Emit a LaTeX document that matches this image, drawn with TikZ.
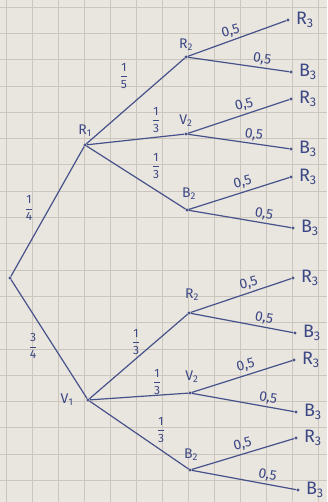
\documentclass[tikz,border=0pt]{standalone}
\usepackage{fontspec}
\usepackage{amsmath}
\setmainfont{Fira Sans}
\definecolor{paper}{HTML}{E9E5DF}
\definecolor{gridc}{HTML}{CBC5BE}
\definecolor{ink}{HTML}{46528A}
\definecolor{inkt}{HTML}{3C4884}
\newcommand\lb[2]{#1\textsubscript{#2}}
\newcommand\fr[2]{$\genfrac{}{}{0.8pt}{0}{\text{#1}}{\text{#2}}$}
\newcommand\half{0,5}
\begin{document}
\begin{tikzpicture}[x=1pt,y=-1pt,
  dot/.style={circle,fill=ink,inner sep=0pt,minimum size=3.2pt},
  branch/.style={draw=ink,line width=1.2pt},
  ntxt/.style={text=inkt,font=\fontsize{14}{15}\selectfont,inner sep=1pt},
  leaftxt/.style={text=inkt,font=\fontsize{18}{19}\selectfont,inner sep=1pt,anchor=west},
  frtxt/.style={text=inkt,font=\fontsize{12}{13}\selectfont,inner sep=1pt},
  ptxt/.style={text=inkt,font=\fontsize{14}{15}\selectfont,inner sep=2pt,above,sloped},
  ptxtr/.style={text=inkt,font=\fontsize{14}{15}\selectfont,inner sep=2.5pt,above,rotate=15}]
\useasboundingbox (0,0) rectangle (327,502);
\fill[paper] (0,0) rectangle (327,502);
\foreach \i in {0,...,12} {\draw[gridc,line width=0.7pt] (6+26*\i,0) -- (6+26*\i,502);}
\foreach \j in {0,...,19} {\draw[gridc,line width=0.7pt] (0,7+26.3*\j) -- (327,7+26.3*\j);}
% nodes
\node[dot] (root) at (10,278) {};
\node[dot] (r1) at (85,145) {};
\node[dot] (v1) at (88,400) {};
\node[dot] (r2a) at (186,57) {};
\node[dot] (v2a) at (186,134) {};
\node[dot] (b2a) at (187,210) {};
\node[dot] (r2b) at (189,313) {};
\node[dot] (v2b) at (190,393) {};
\node[dot] (b2b) at (190,470) {};
% leaves
\node[dot] (l1) at (288,20) {};
\node[dot] (l2) at (291,72) {};
\node[dot] (l3) at (291,99) {};
\node[dot] (l4) at (291,149) {};
\node[dot] (l5) at (291,177) {};
\node[dot] (l6) at (293,228) {};
\node[dot] (l7) at (293,278) {};
\node[dot] (l8) at (295,333) {};
\node[dot] (l9) at (294,360) {};
\node[dot] (l10) at (296,412) {};
\node[dot] (l11) at (296,438) {};
\node[dot] (l12) at (298,490) {};
% first level
\draw[branch] (root) -- (r1);
\draw[branch] (root) -- (v1);
% second level
\draw[branch] (r1) -- (r2a);
\draw[branch] (r1) -- (v2a);
\draw[branch] (r1) -- (b2a);
\draw[branch] (v1) -- (r2b);
\draw[branch] (v1) -- (v2b);
\draw[branch] (v1) -- (b2b);
% third level
\draw[branch] (r2a) -- node[ptxtr,pos=0.46] (p1) {\half} (l1);
\draw[branch] (r2a) -- node[ptxt,pos=0.72] (p2) {\half} (l2);
\draw[branch] (v2a) -- node[ptxtr,pos=0.58] (p3) {\half} (l3);
\draw[branch] (v2a) -- node[ptxt,pos=0.64] (p4) {\half} (l4);
\draw[branch] (b2a) -- node[ptxtr,pos=0.56] (p5) {\half} (l5);
\draw[branch] (b2a) -- node[ptxt,pos=0.72] (p6) {\half} (l6);
\draw[branch] (r2b) -- node[ptxtr,pos=0.6] (p7) {\half} (l7);
\draw[branch] (r2b) -- node[ptxt,pos=0.7] (p8) {\half} (l8);
\draw[branch] (v2b) -- node[ptxtr,pos=0.56] (p9) {\half} (l9);
\draw[branch] (v2b) -- node[ptxt,pos=0.73] (p10) {\half} (l10);
\draw[branch] (b2b) -- node[ptxtr,pos=0.52] (p11) {\half} (l11);
\draw[branch] (b2b) -- node[ptxt,pos=0.71] (p12) {\half} (l12);
% node labels
\node[ntxt] (tr1) at (85,131) {\lb{R}{1}};
\node[ntxt] (tv1) at (67,400) {\lb{V}{1}};
\node[ntxt] (tr2a) at (186,45) {\lb{R}{2}};
\node[ntxt] (tv2a) at (186,121) {\lb{V}{2}};
\node[ntxt] (tb2a) at (189,194) {\lb{B}{2}};
\node[ntxt] (tr2b) at (192,295) {\lb{R}{2}};
\node[ntxt] (tv2b) at (192,377) {\lb{V}{2}};
\node[ntxt] (tb2b) at (191,455) {\lb{B}{2}};
% leaf labels
\node[leaftxt] (t1) at ([xshift=5pt]l1.east) {\lb{R}{3}};
\node[leaftxt] (t2) at ([xshift=5pt]l2.east) {\lb{B}{3}};
\node[leaftxt] (t3) at ([xshift=5pt]l3.east) {\lb{R}{3}};
\node[leaftxt] (t4) at ([xshift=5pt]l4.east) {\lb{B}{3}};
\node[leaftxt] (t5) at ([xshift=5pt]l5.east) {\lb{R}{3}};
\node[leaftxt] (t6) at ([xshift=5pt]l6.east) {\lb{B}{3}};
\node[leaftxt] (t7) at ([xshift=5pt]l7.east) {\lb{R}{3}};
\node[leaftxt] (t8) at ([xshift=5pt]l8.east) {\lb{B}{3}};
\node[leaftxt] (t9) at ([xshift=5pt]l9.east) {\lb{R}{3}};
\node[leaftxt] (t10) at ([xshift=5pt]l10.east) {\lb{B}{3}};
\node[leaftxt] (t11) at ([xshift=5pt]l11.east) {\lb{R}{3}};
\node[leaftxt] (t12) at ([xshift=5pt]l12.east) {\lb{B}{3}};
% fraction labels
\node[frtxt] (f1) at (29,208) {\fr{1}{4}};
\node[frtxt] (f2) at (33,346) {\fr{3}{4}};
\node[frtxt] (f3) at (124,76) {\fr{1}{5}};
\node[frtxt] (f4) at (156,120) {\fr{1}{3}};
\node[frtxt] (f5) at (156,166) {\fr{1}{3}};
\node[frtxt] (f6) at (136,342) {\fr{1}{3}};
\node[frtxt] (f7) at (157,382) {\fr{1}{3}};
\node[frtxt] (f8) at (161,430) {\fr{1}{3}};
\end{tikzpicture}
\end{document}
